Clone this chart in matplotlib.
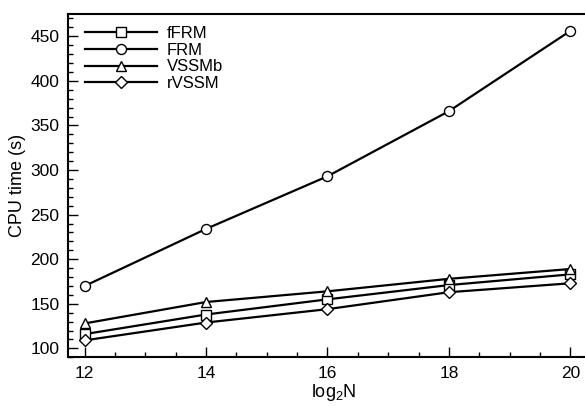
import matplotlib
matplotlib.use("Agg")
import matplotlib.pyplot as plt
from matplotlib.ticker import MultipleLocator

plt.rcParams['font.family'] = ['Liberation Sans', 'DejaVu Sans']
plt.rcParams['mathtext.default'] = 'regular'

log2N = [12, 14, 16, 18, 20]
fFRM = [116, 138, 155, 171, 183]
FRM = [170, 234, 293, 366, 456]
VSSMb = [128, 152, 164, 178, 189]
rVSSM = [109, 129, 144, 163, 173]

series = [("fFRM", fFRM, "s"), ("FRM", FRM, "o"), ("VSSMb", VSSMb, "^"), ("rVSSM", rVSSM, "D")]

fig = plt.figure(figsize=(5.85, 4.07), dpi=100)
ax = fig.add_axes([0.1157, 0.1221, 0.911, 0.8435])

for name, vals, m in series:
    ms = 7.2 if m != "D" else 6.0
    ax.plot(log2N, vals, color="black", lw=1.6, marker=m, ms=ms,
            mfc="white", mec="black", mew=1.0, label=name)

ax.set_xlim(11.72, 20.5)
ax.set_ylim(90, 475)
ax.xaxis.set_major_locator(MultipleLocator(2))
ax.xaxis.set_minor_locator(MultipleLocator(0.5))
ax.yaxis.set_major_locator(MultipleLocator(50))
ax.yaxis.set_minor_locator(MultipleLocator(10))
ax.tick_params(which='both', direction='in', top=False, right=False, width=1.0)
ax.tick_params(which='major', length=7, labelsize=12.5, pad=6)
ax.tick_params(which='minor', length=3.6)
for s in ax.spines.values():
    s.set_linewidth(1.5)

ax.set_xlabel(r'log$_2$N', fontsize=13, labelpad=1)
ax.set_ylabel('CPU time (s)', fontsize=13, labelpad=3)

leg = fig.legend(loc='upper left', bbox_to_anchor=(0.1453, 0.936), frameon=False,
                 fontsize=12, handlelength=4.3, handletextpad=0.6,
                 labelspacing=0.1, borderpad=0, borderaxespad=0)

fig.savefig("out.png", dpi=100)
